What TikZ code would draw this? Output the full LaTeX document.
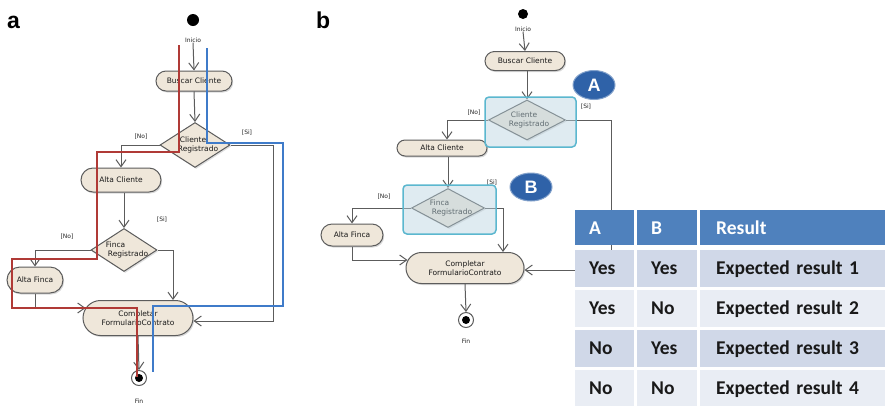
\documentclass[tikz,border=0pt]{standalone}
\usepackage{fontspec}
\setmainfont{DejaVu Sans}
\newfontfamily\lblfont{Liberation Sans}
\newfontfamily\tblfont{Carlito}
\usetikzlibrary{shapes.geometric,arrows.meta,shadows}

\definecolor{pillfill}{HTML}{EFE7DA}
\definecolor{edge}{HTML}{5C5C5C}
\definecolor{redpath}{HTML}{B03A36}
\definecolor{bluepath}{HTML}{3F7BC9}
\definecolor{hdr}{HTML}{4F81BD}
\definecolor{rowdark}{HTML}{D0D8E8}
\definecolor{rowlight}{HTML}{E9EDF4}
\definecolor{boxedge}{HTML}{5BB7CF}
\definecolor{boxfill}{HTML}{B9D3E0}
\definecolor{badge}{HTML}{2F62A8}

\begin{document}
\begin{tikzpicture}[x=1pt,y=-1pt,
  pill/.style={rectangle, rounded corners=#1, draw=edge, line width=1pt,
    fill=pillfill, inner sep=1pt, align=center,
    font=\fontsize{7.5}{8.8}\selectfont, text=black!90,
    drop shadow={shadow xshift=1.2pt, shadow yshift=-1.5pt, opacity=0.3}},
  pill/.default=10pt,
  decision/.style={diamond, draw=edge, line width=1pt, fill=pillfill,
    inner sep=0pt,
    drop shadow={shadow xshift=1.2pt, shadow yshift=-1.5pt, opacity=0.25}},
  dtext/.style={align=left, inner sep=0pt, font=\fontsize{7.5}{9}\selectfont, text=black!90},
  small/.style={inner sep=0pt, font=\fontsize{6}{7}\selectfont, text=black!85},
  startdot/.style={circle, fill=black, minimum size=#1, inner sep=0pt},
  enddot/.style={circle, draw=edge, line width=1pt, fill=white, minimum size=15pt, inner sep=0pt},
  conn/.style={draw=edge, line width=1pt, -{Straight Barb[length=7pt,width=10pt]}},
  redline/.style={draw=redpath, line width=1.8pt, line join=miter},
  blueline/.style={draw=bluepath, line width=1.8pt, line join=miter},
  hbox/.style={rectangle, rounded corners=4pt, draw=boxedge, line width=1.5pt,
    fill=boxfill, fill opacity=0.45},
  badgenode/.style={ellipse, fill=badge, draw=badge!60!white, line width=1pt,
    inner sep=0pt, text=white, font=\lblfont\bfseries\fontsize{18}{18}\selectfont},
  panel/.style={inner sep=0pt, anchor=base west, font=\lblfont\bfseries\fontsize{23}{23}\selectfont},
  cell/.style={rectangle, anchor=north west, inner ysep=0pt, inner xsep=#1,
    align=left, font=\tblfont\bfseries\fontsize{19.5}{20}\selectfont, text=black!90},
  cell/.default=14pt
]
\fill[white] (0,0) rectangle (885,405);
\useasboundingbox (0,0) rectangle (885,405);

% ---------------- panel a ----------------
\node[panel] (la) at (7,28) {a};

\node[startdot=12pt] (sa) at (193,20) {};
\node[small] (ia) at (193,40) {Inicio};
\node[pill, minimum width=76pt, minimum height=20pt] (abus) at (194,81) {Buscar Cliente};
\node[decision, minimum width=70pt, minimum height=45pt] (aci) at (195,145) {};
\node[dtext] (acit) at (199,145) {Cliente\\\hspace*{-2pt}Registrado};
\node[pill=12pt, minimum width=80pt, minimum height=24pt] (aac) at (121,180) {Alta Cliente};
\node[decision, minimum width=66pt, minimum height=43pt] (afi) at (124,250) {};
\node[dtext] (afit) at (127,250) {Finca\\\hspace*{2pt}Registrado};
\node[pill=13pt, minimum width=56pt, minimum height=26pt] (aaf) at (35,280) {Alta Finca};
\node[pill=17.5pt, minimum width=110pt, minimum height=35pt] (aco) at (138,318) {Completar\\FormularioContrato};
\node[enddot] (afin) at (139,378) {};
\fill (afin.center) circle (4);
\node[small] (afint) at (139,401) {Fin};

\node[small] (ano1) at (141,137) {[No]};
\node[small] (asi1) at (247,133) {[Si]};
\node[small] (asi2) at (162,220) {[Si]};
\node[small] (ano2) at (67,237) {[No]};

\coordinate (ara) at (273,321);
\coordinate (afa) at (173,300);

\draw[conn] (ia.south) -- (abus.north);
\draw[conn] (abus.south) -- (aci.north);
\draw[conn] (aci.west) -| (aac.north);
\draw[conn] (aac.south -| afi.north) -- (afi.north);
\draw[conn] (afi.west) -| (aaf.north);
\draw[conn] (afi.east) -| (afa);
\draw[conn] (aaf.south) |- ([xshift=3pt,yshift=10pt]aco.west);
\draw[conn] (aci.east) -| (ara) -- (aco.east |- ara);
\draw[conn] (aco.south) -- (afin.north);

% traced paths
\draw[redline] (179,45) -- (179,152) -- (97,152) -- (97,259) -- (12,259)
  -- (12,308) -- (137,308) -- (137,377);
\draw[blueline] (207,48) -- (207,143) -- (283,143) -- (283,306) -- (153,306)
  -- (153,372);

% ---------------- panel b ----------------
\node[panel] (lb) at (316,28) {b};

\node[startdot=10pt] (sb) at (523,14) {};
\node[small] (ib) at (523,29) {Inicio};
\node[pill=9.5pt, minimum width=80pt, minimum height=19pt] (bbus) at (525,61) {Buscar Cliente};
\node[decision, minimum width=77pt, minimum height=40pt] (bci) at (527,120) {};
\node[dtext] (bcit) at (530,120) {Cliente\\\hspace*{-2pt}Registrado};
\node[pill=8pt, minimum width=90pt, minimum height=16pt] (bac) at (442,148) {Alta Cliente};
\node[decision, minimum width=73pt, minimum height=39pt] (bfi) at (448,208) {};
\node[dtext] (bfit) at (451,208) {Finca\\\hspace*{2pt}Registrado};
\node[pill=11pt, minimum width=62pt, minimum height=22pt] (baf) at (352,235) {Alta Finca};
\node[pill=15.5pt, minimum width=118pt, minimum height=31pt] (bco) at (465,268) {Completar\\FormularioContrato};
\node[enddot] (bfin) at (466,320) {};
\fill (bfin.center) circle (4);
\node[small] (bfint) at (466,341) {Fin};

\node[small] (bno1) at (474,113) {[No]};
\node[small] (bsi1) at (586,107) {[Si]};
\node[small] (bsi2) at (492,183) {[Si]};
\node[small] (bno2) at (384,197) {[No]};

\coordinate (bra) at (611,270);
\coordinate (bfa) at (503,252);

\draw[conn] (ib.south) -- (bbus.north);
\draw[conn] (bbus.south -| bci.north) -- (bci.north);
\draw[conn] (bci.west) -| ([xshift=5pt]bac.north);
\draw[conn] (bac.south -| bfi.north) -- (bfi.north);
\draw[conn] (bfi.west) -| (baf.north);
\draw[conn] (bfi.east) -| (bfa);
\draw[conn] (baf.south) |- ([xshift=2pt,yshift=8pt]bco.west);
\draw[conn] (bci.east) -| (bra) -- (bco.east |- bra);
\draw[conn] (bco.south) -- (bfin.north);

% highlighted decisions
\node[hbox, minimum width=91pt, minimum height=50pt] (boxa) at (530.5,122) {};
\node[hbox, minimum width=93pt, minimum height=49pt] (boxb) at (449.5,209.5) {};
\node[badgenode, minimum width=42pt, minimum height=29pt] (bdga) at (594,85) {A};
\node[badgenode, minimum width=42pt, minimum height=28pt] (bdgb) at (531,187) {B};

% ---------------- decision table ----------------
\node[cell, fill=hdr, text=white, text width=31pt, minimum height=35pt] (t00) at (575,210) {A};
\node[cell, fill=hdr, text=white, text width=32pt, minimum height=35pt] (t01) at (637,210) {B};
\node[cell=16pt, fill=hdr, text=white, text width=155pt, minimum height=35pt] (t02) at (700,210) {Result};

\node[cell, fill=rowdark, text width=31pt, minimum height=37pt] (t10) at (575,250) {Yes};
\node[cell, fill=rowdark, text width=32pt, minimum height=37pt] (t11) at (637,250) {Yes};
\node[cell=16pt, fill=rowdark, text width=155pt, minimum height=37pt] (t12) at (700,250) {Expected result 1};

\node[cell, fill=rowlight, text width=31pt, minimum height=37pt] (t20) at (575,290) {Yes};
\node[cell, fill=rowlight, text width=32pt, minimum height=37pt] (t21) at (637,290) {No};
\node[cell=16pt, fill=rowlight, text width=155pt, minimum height=37pt] (t22) at (700,290) {Expected result 2};

\node[cell, fill=rowdark, text width=31pt, minimum height=37pt] (t30) at (575,330) {No};
\node[cell, fill=rowdark, text width=32pt, minimum height=37pt] (t31) at (637,330) {Yes};
\node[cell=16pt, fill=rowdark, text width=155pt, minimum height=37pt] (t32) at (700,330) {Expected result 3};

\node[cell, fill=rowlight, text width=31pt, minimum height=37pt] (t40) at (575,370) {No};
\node[cell, fill=rowlight, text width=32pt, minimum height=37pt] (t41) at (637,370) {No};
\node[cell=16pt, fill=rowlight, text width=155pt, minimum height=37pt] (t42) at (700,370) {Expected result 4};
\end{tikzpicture}
\end{document}
